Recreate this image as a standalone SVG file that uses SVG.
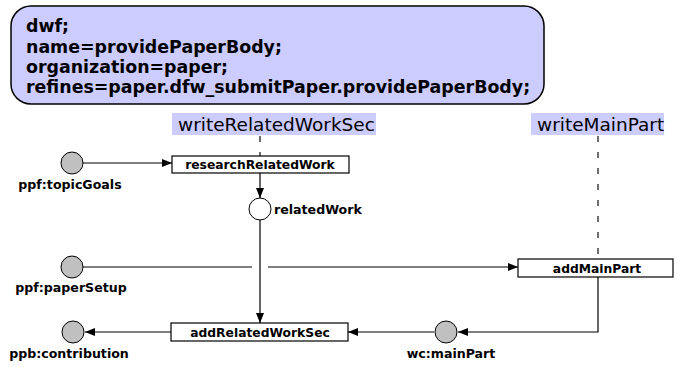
<svg xmlns="http://www.w3.org/2000/svg" width="678" height="367" viewBox="0 0 678 367">
  <style>
    .hdr { fill: #ccccff; stroke: #000; stroke-width: 1.5; }
    .hdrtxt { font-family: "DejaVu Sans", sans-serif; font-weight: bold; font-size: 17.4px; fill: #000; }
    .lane { fill: #ccccff; stroke: none; }
    .lanetxt { font-family: "DejaVu Sans", sans-serif; font-size: 18.5px; fill: #000; }
    .lifeline { stroke: #222; stroke-width: 1.3; stroke-dasharray: 6 10; fill: none; }
    .task { fill: #fff; stroke: #000; stroke-width: 1.2; }
    .tasktxt { font-family: "DejaVu Sans", sans-serif; font-weight: bold; font-size: 12.3px; fill: #000; text-anchor: middle; }
    .ext { fill: #c0c0c0; stroke: #000; stroke-width: 1; }
    .int { fill: #fff; stroke: #000; stroke-width: 1; }
    .lbl { font-family: "DejaVu Sans", sans-serif; font-weight: bold; font-size: 12.6px; fill: #000; }
    .mid { text-anchor: middle; }
    .edge { stroke: #000; stroke-width: 1.2; fill: none; marker-end: url(#arr); }
    .plain { stroke: #000; stroke-width: 1.2; fill: none; }
  </style>
  <defs>
    <marker id="arr" viewBox="0 0 10 8" refX="10" refY="4" markerWidth="10" markerHeight="8" markerUnits="userSpaceOnUse" orient="auto">
      <path d="M0,0 L10,4 L0,8 z" fill="#000"/>
    </marker>
  </defs>

  <!-- header block -->
  <g id="header">
    <rect class="hdr" x="11" y="6" width="533" height="98" rx="20" ry="20"/>
    <text class="hdrtxt" x="26" y="32">dwf;</text>
    <text class="hdrtxt" x="26" y="53">name=providePaperBody;</text>
    <text class="hdrtxt" x="26" y="73">organization=paper;</text>
    <text class="hdrtxt" x="26" y="93">refines=paper.dfw_submitPaper.providePaperBody;</text>
  </g>

  <!-- lanes -->
  <g id="lane-writeRelatedWorkSec">
    <rect class="lane" x="172" y="113" width="204" height="22"/>
    <text class="lanetxt" x="178" y="131">writeRelatedWorkSec</text>
    <line class="lifeline" x1="260" y1="136" x2="260" y2="157"/>
  </g>
  <g id="lane-writeMainPart">
    <rect class="lane" x="531" y="113" width="133" height="22"/>
    <text class="lanetxt" x="537" y="131">writeMainPart</text>
    <line class="lifeline" x1="598" y1="136" x2="598" y2="259"/>
  </g>

  <!-- connectors -->
  <g id="connectors">
    <line class="edge" x1="83" y1="163" x2="172" y2="163"/>
    <line class="edge" x1="260" y1="173" x2="260" y2="198"/>
    <line class="edge" x1="260" y1="220" x2="260" y2="323"/>
    <line class="plain" x1="83" y1="267" x2="252" y2="267"/>
    <line class="edge" x1="268" y1="267" x2="518" y2="267"/>
    <polyline class="edge" points="598,277 598,332 458,332"/>
    <line class="edge" x1="434" y1="332" x2="348" y2="332"/>
    <line class="edge" x1="171" y1="332" x2="85" y2="332"/>
  </g>

  <!-- nodes -->
  <g id="ppf-topicGoals">
    <circle class="ext" cx="72" cy="163" r="11"/>
    <text class="lbl mid" x="70" y="189">ppf:topicGoals</text>
  </g>
  <g id="researchRelatedWork">
    <rect class="task" x="172" y="156" width="177" height="17"/>
    <text class="tasktxt" x="260" y="169">researchRelatedWork</text>
  </g>
  <g id="relatedWork">
    <circle class="int" cx="260" cy="209" r="11"/>
    <text class="lbl" x="274" y="214">relatedWork</text>
  </g>
  <g id="ppf-paperSetup">
    <circle class="ext" cx="72" cy="267" r="11"/>
    <text class="lbl mid" x="71" y="292">ppf:paperSetup</text>
  </g>
  <g id="addMainPart">
    <rect class="task" x="518" y="259" width="155" height="18"/>
    <text class="tasktxt" x="597" y="273">addMainPart</text>
  </g>
  <g id="ppb-contribution">
    <circle class="ext" cx="73" cy="332" r="11"/>
    <text class="lbl mid" x="69" y="358">ppb:contribution</text>
  </g>
  <g id="addRelatedWorkSec">
    <rect class="task" x="171" y="323" width="177" height="18"/>
    <text class="tasktxt" x="260" y="337">addRelatedWorkSec</text>
  </g>
  <g id="wc-mainPart">
    <circle class="ext" cx="446" cy="332" r="11"/>
    <text class="lbl mid" x="451" y="358">wc:mainPart</text>
  </g>
</svg>
